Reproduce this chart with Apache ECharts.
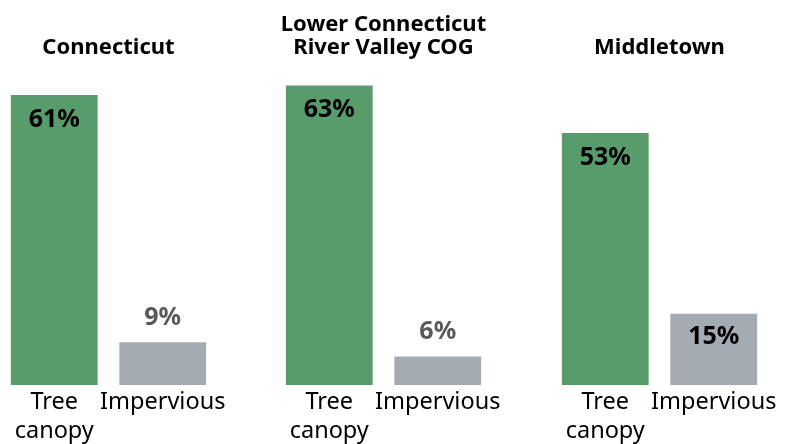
<!DOCTYPE html>
<html>
<head>
<meta charset="utf-8">
<script src="https://cdn.jsdelivr.net/npm/echarts@6/dist/echarts.min.js"></script>
<style>
html,body{margin:0;padding:0;background:#fff;}
#chart{width:795px;height:444px;}
</style>
</head>
<body>
<div id="chart"></div>
<script>
// Land cover shares by geography
const regions = ['Connecticut', 'Lower Connecticut\nRiver Valley COG', 'Middletown'];
const categories = ['Tree\ncanopy', 'Impervious'];
const treeCanopy = [61, 63, 53];
const impervious = [9, 6, 15];

const GREEN = '#589C6B';
const GRAY = '#A5ABB3';
const FONT = '"Noto Sans", sans-serif';
const panelLeft = [0, 275, 551];
const panelWidth = 217;
const baseline = 385;
const yMax = 70;
const pxPerUnit = 4.754;
const gridTop = baseline - yMax * pxPerUnit;

const grids = [], xAxes = [], yAxes = [], series = [], graphics = [];
regions.forEach((name, i) => {
  grids.push({
    left: panelLeft[i], width: panelWidth, top: gridTop, bottom: 444 - baseline,
    outerBoundsMode: 'none', containLabel: false
  });
  xAxes.push({
    type: 'category', gridIndex: i, data: categories,
    axisLine: {show: false}, axisTick: {show: false},
    axisLabel: {color: '#000', fontFamily: FONT, fontSize: 23.5, lineHeight: 29, margin: 3, verticalAlign: 'top', interval: 0}
  });
  yAxes.push({type: 'value', gridIndex: i, min: 0, max: yMax, show: false});
  const imp = impervious[i];
  const impInside = imp >= 12;
  series.push({
    type: 'bar', xAxisIndex: i, yAxisIndex: i, barWidth: '80%',
    data: [
      {value: treeCanopy[i], itemStyle: {color: GREEN},
       label: {show: true, position: 'insideTop', distance: 11.5, color: '#000'}},
      {value: imp, itemStyle: {color: GRAY},
       label: {show: true, position: impInside ? 'insideTop' : 'top', distance: impInside ? 10.5 : 11.5, color: impInside ? '#000' : '#595959'}}
    ],
    label: {formatter: '{c}%', fontFamily: FONT, fontWeight: 'bold', fontSize: 25, lineHeight: 26},
    silent: true
  });
  // panel heading, centred over its pair of bars
  graphics.push({
    type: 'text', silent: true,
    x: panelLeft[i] + panelWidth / 2,
    y: i === 1 ? 36.5 : 48,
    style: {
      text: name, align: 'center', verticalAlign: 'middle',
      fontFamily: FONT, fontWeight: 'bold', fontSize: 22, lineHeight: 23, fill: '#000'
    }
  });
});

const chart = echarts.init(document.getElementById('chart'), null, {renderer: 'canvas'});
chart.setOption({
  animation: false,
  grid: grids,
  xAxis: xAxes,
  yAxis: yAxes,
  series: series,
  graphic: graphics
});
</script>
</body>
</html>
